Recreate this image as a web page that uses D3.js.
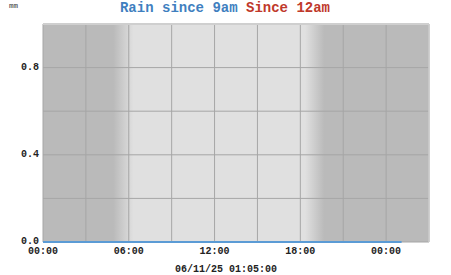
<!DOCTYPE html>
<html>
<head>
<meta charset="utf-8">
<script src="https://cdn.jsdelivr.net/npm/d3@7"></script>
<style>
body{margin:0;background:#fff;}
text{font-family:"Liberation Mono","DejaVu Sans Mono",monospace;}
</style>
</head>
<body>
<svg width="451" height="275"></svg>
<script>
// rain readings, hourly, all dry
const times=["2025-06-10 00:00","2025-06-10 01:00","2025-06-10 02:00","2025-06-10 03:00","2025-06-10 04:00","2025-06-10 05:00",
  "2025-06-10 06:00","2025-06-10 07:00","2025-06-10 08:00","2025-06-10 09:00","2025-06-10 10:00","2025-06-10 11:00",
  "2025-06-10 12:00","2025-06-10 13:00","2025-06-10 14:00","2025-06-10 15:00","2025-06-10 16:00","2025-06-10 17:00",
  "2025-06-10 18:00","2025-06-10 19:00","2025-06-10 20:00","2025-06-10 21:00","2025-06-10 22:00","2025-06-10 23:00",
  "2025-06-11 00:00","2025-06-11 01:00","2025-06-11 01:05"];
const rain=[0,0,0,0,0,0,0,0,0,0,0,0,0,0,0,0,0,0,0,0,0,0,0,0,0,0,0];
const yTicks=[0,0.4,0.8];
const xDomain=["2025-06-10 00:00","2025-06-11 03:00"];
const dawn=["2025-06-10 04:55","2025-06-10 06:20"];
const dusk=["2025-06-10 18:20","2025-06-10 19:40"];
const stamp="06/11/25 01:05:00";

const parse=d3.timeParse("%Y-%m-%d %H:%M");
const svg=d3.select("svg");
const m={l:43,r:22,t:24,b:33};
const w=451-m.l-m.r, h=275-m.t-m.b;
const g=svg.append("g").attr("transform","translate("+m.l+","+m.t+")");

const x=d3.scaleTime().domain(xDomain.map(parse)).range([0,w]);
const y=d3.scaleLinear().domain([0,1]).range([h,0]);

// day/night background
const dark="#bababa", light="#e0e0e0";
const grad=svg.append("defs").append("linearGradient").attr("id","sun")
  .attr("gradientUnits","userSpaceOnUse").attr("x1",0).attr("x2",w).attr("y1",0).attr("y2",0);
[[0,dark],[x(parse(dawn[0])),dark],[x(parse(dawn[1])),light],[x(parse(dusk[0])),light],[x(parse(dusk[1])),dark],[w,dark]]
  .forEach(s=>grad.append("stop").attr("offset",s[0]/w).attr("stop-color",s[1]));
g.append("rect").attr("width",w).attr("height",h).attr("fill","url(#sun)");

// grid
g.append("g").selectAll("line").data(d3.timeHour.every(3).range(x.domain()[0],d3.timeMinute.offset(x.domain()[1],1)))
  .enter().append("line")
  .attr("x1",d=>x(d)).attr("x2",d=>x(d)).attr("y1",0).attr("y2",h)
  .attr("stroke","#a6a6a6").attr("stroke-width",1);
g.append("g").selectAll("line").data(d3.range(0,1.01,0.2))
  .enter().append("line")
  .attr("x1",0).attr("x2",w).attr("y1",d=>y(d)).attr("y2",d=>y(d))
  .attr("stroke","#a6a6a6").attr("stroke-width",1);
// frame
g.append("line").attr("x1",0).attr("x2",w).attr("y1",0).attr("y2",0).attr("stroke","#cfcfcf").attr("stroke-width",2);
g.append("line").attr("x1",w).attr("x2",w).attr("y1",0).attr("y2",h).attr("stroke","#cfcfcf").attr("stroke-width",1.5);

// rain line
const line=d3.line().x((d,i)=>x(parse(times[i]))).y(d=>y(d));
g.append("path").datum(rain).attr("d",line).attr("fill","none")
  .attr("stroke","#5b9bd5").attr("stroke-width",2);

// y labels
g.append("g").selectAll("text").data(yTicks).enter().append("text")
  .attr("x",-4).attr("y",d=>y(d)+2).attr("text-anchor","end")
  .attr("style","font-size:10px;font-weight:bold;fill:#222")
  .text(d3.format(".1f"));
// x labels
g.append("g").selectAll("text").data(d3.timeHour.every(6).range(x.domain()[0],x.domain()[1]))
  .enter().append("text")
  .attr("x",d=>x(d)).attr("y",h+12).attr("text-anchor","middle")
  .attr("style","font-size:10px;font-weight:bold;fill:#222")
  .text(d3.timeFormat("%H:%M"));

// titles
const title=svg.append("text").attr("x",225).attr("y",12).attr("text-anchor","middle")
  .attr("style","font-size:14px;font-weight:bold");
title.append("tspan").attr("fill","#3f7fbf").text("Rain since 9am ");
title.append("tspan").attr("fill","#c0392b").text("Since 12am");
svg.append("text").attr("x",9).attr("y",8).attr("style","font-size:7.5px;fill:#333").text("mm");
svg.append("text").attr("x",226).attr("y",272).attr("text-anchor","middle")
  .attr("style","font-size:10px;font-weight:bold;fill:#222").text(stamp);
</script>
</body>
</html>
